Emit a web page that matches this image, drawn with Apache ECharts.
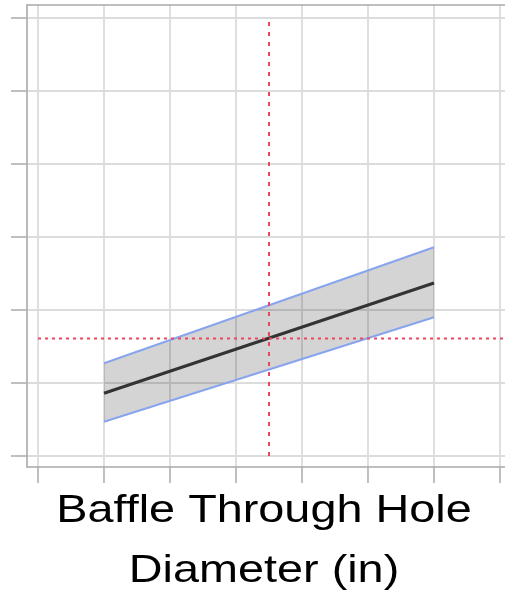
<!DOCTYPE html>
<html>
<head>
<meta charset="utf-8">
<title>Baffle Through Hole Diameter profile</title>
<script src="https://cdn.jsdelivr.net/npm/echarts@6/dist/echarts.min.js"></script>
<style>
  html, body { margin: 0; padding: 0; background: #ffffff; }
  #chart { width: 505px; height: 590px; }
</style>
</head>
<body>
<div id="chart"></div>
<script>
// Factor settings where the profile is evaluated (inches)
const diameterX = [0.4, 0.9];
// Predicted response and its confidence limits at those settings
const predicted = [0.86, 2.37];
const upperLimit = [1.27, 2.86];
const lowerLimit = [0.47, 1.90];
// Current setting of the factor and the response it gives (crosshair)
const currentX = 0.65;
const currentY = 1.61;
// Tick positions on each axis
const xTicks = [0.3, 0.4, 0.5, 0.6, 0.7, 0.8, 0.9, 1.0];
const yTicks = [0, 1, 2, 3, 4, 5, 6];
// Visible axis ranges: the frame sits a little outside the outer ticks
const xRange = [0.2833, 1.0076];
const yRange = [-0.1507, 6.178];
const axisTitle = 'Baffle Through Hole\nDiameter (in)';

const pairs = (ys) => diameterX.map((x, i) => [x, ys[i]]);
const bandRows = diameterX.map((x, i) => [x, lowerLimit[i], upperLimit[i]]);

const gridColor = '#dcdcdc';
const tickColor = '#b0b0b0';
const frameColor = '#a9a9a9';
const ciBlue = '#88a4ee';
const crossRed = '#e8475f';

const chart = echarts.init(document.getElementById('chart'), null, { renderer: 'canvas' });

// Confidence band: one filled quadrilateral between consecutive settings
function renderBand(params, api) {
  const i = params.dataIndexInside;
  if (i + 1 >= params.dataInsideLength) return null;
  const x0 = api.value(0, i), x1 = api.value(0, i + 1);
  const pts = [
    api.coord([x0, api.value(1, i)]),
    api.coord([x1, api.value(1, i + 1)]),
    api.coord([x1, api.value(2, i + 1)]),
    api.coord([x0, api.value(2, i)])
  ];
  return {
    type: 'polygon',
    shape: { points: pts },
    style: { fill: 'rgba(0,0,0,0.17)' }
  };
}

const frameLine = { show: true, onZero: false, lineStyle: { color: frameColor, width: 1.6 } };
const outerTick = (values) => ({
  show: true, length: 16, customValues: values,
  lineStyle: { color: tickColor, width: 1.6 }
});
const gridLines = {
  show: true,
  lineStyle: { color: gridColor, width: 1.8 }
};

chart.setOption({
  animation: false,
  backgroundColor: '#ffffff',
  grid: {
    left: 27, top: 5, right: 0, bottom: 123,
    containLabel: false, outerBoundsMode: 'none', show: false
  },
  xAxis: [
    {
      type: 'value', position: 'bottom', min: xRange[0], max: xRange[1],
      axisLine: frameLine,
      axisTick: outerTick(xTicks),
      axisLabel: { show: false, customValues: xTicks },
      splitLine: gridLines
    },
    {
      // top edge of the frame
      type: 'value', position: 'top', min: xRange[0], max: xRange[1],
      axisLine: frameLine, axisTick: { show: false },
      axisLabel: { show: false }, splitLine: { show: false }
    }
  ],
  yAxis: {
    type: 'value', position: 'left', min: yRange[0], max: yRange[1],
    axisLine: frameLine,
    axisTick: outerTick(yTicks),
    axisLabel: { show: false, customValues: yTicks },
    splitLine: gridLines
  },
  series: [
    {
      name: 'confidence band', type: 'custom', data: bandRows,
      encode: { x: 0, y: [1, 2] },
      renderItem: renderBand, silent: true, z: 2
    },
    {
      name: 'upper limit', type: 'line', data: pairs(upperLimit),
      symbol: 'none', lineStyle: { color: ciBlue, width: 2 }, z: 3
    },
    {
      name: 'lower limit', type: 'line', data: pairs(lowerLimit),
      symbol: 'none', lineStyle: { color: ciBlue, width: 2 }, z: 3
    },
    {
      name: 'predicted', type: 'line', data: pairs(predicted),
      symbol: 'none', lineStyle: { color: '#333333', width: 3 }, z: 4
    },
    {
      name: 'current setting', type: 'line', silent: true, z: 5,
      data: [[currentX, yTicks[0]], [currentX, yTicks[yTicks.length - 1]]],
      symbol: 'none', lineStyle: { color: crossRed, width: 2, type: [4, 6] }
    },
    {
      name: 'current response', type: 'line', silent: true, z: 5,
      data: [[xTicks[0], currentY], [xRange[1], currentY]],
      symbol: 'none', lineStyle: { color: crossRed, width: 2, type: [3, 4] }
    }
  ],
  graphic: [
    {
      type: 'text', x: 264, y: 481, scaleX: 1.2, silent: true,
      style: {
        text: axisTitle, align: 'center', verticalAlign: 'top',
        fill: '#000000', font: '39px "Liberation Sans", Arial, sans-serif',
        lineHeight: 60
      }
    }
  ]
});
</script>
</body>
</html>
